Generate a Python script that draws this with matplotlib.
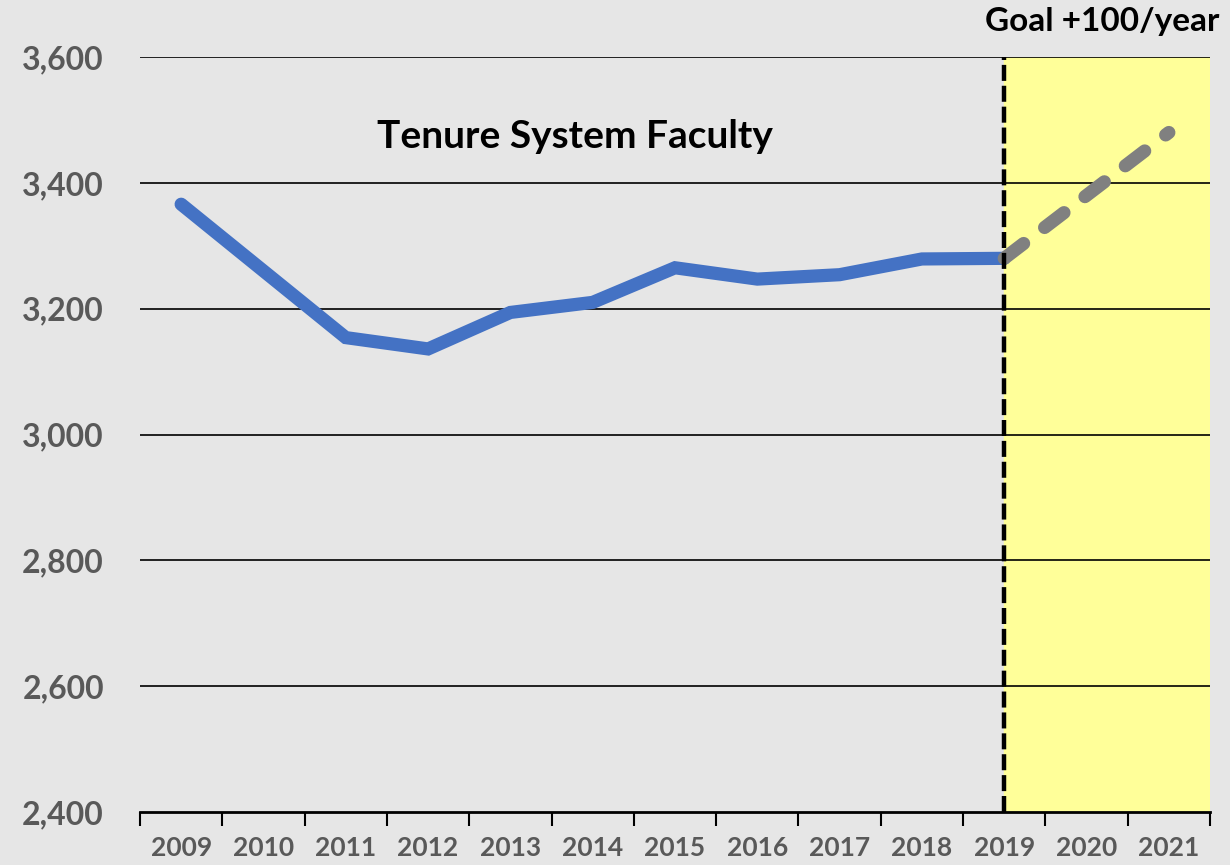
"""
Tenure system faculty headcount 2009-2019 with goal line to 2021
"""

import matplotlib
matplotlib.use('Agg')
import matplotlib.pyplot as plt
from matplotlib.ticker import FixedLocator, FuncFormatter
import numpy as np

# Data
years = ['2009', '2010', '2011', '2012', '2013', '2014', '2015',
         '2016', '2017', '2018', '2019', '2020', '2021']
faculty = [3366, 3260, 3154, 3136, 3194, 3210, 3265, 3247, 3254, 3279, 3280]
goal_years = ['2019', '2020', '2021']
goal = [3280, 3380, 3480]
y_ticks = [2400, 2600, 2800, 3000, 3200, 3400, 3600]

plt.rcParams['font.family'] = ['Lato', 'DejaVu Sans']
plt.rcParams['font.weight'] = 'bold'

fig = plt.figure(figsize=(12.3, 8.65), dpi=100, facecolor='#e6e6e6')
ax = fig.add_axes([140 / 1230, 1 - 812 / 865, 1070 / 1230, 755 / 865])
ax.set_facecolor('#e6e6e6')

x = np.arange(len(years))
x_fac = x[:len(faculty)]
x_goal = np.array([years.index(y) for y in goal_years])

# Goal region shading
ax.axvspan(x_goal[0], len(years) - 0.5, color='#ffff99', zorder=0)

# Gridlines
for yt in y_ticks[1:]:
    ax.axhline(yt, color='black', lw=1.2, zorder=1)

# Series
ax.plot(x_fac, faculty, color='#4472c4', lw=9.5, solid_capstyle='round',
        solid_joinstyle='miter', zorder=3)
ax.plot(x_goal, goal, color='#808080', lw=9.5, dash_capstyle='round',
        dashes=(1.85, 2.0), zorder=4)

# Vertical divider at 2019
ax.axvline(x_goal[0], color='black', lw=3.2, dashes=(3.6, 1.1), zorder=5)

ax.set_xlim(-0.5, len(years) - 0.5)
ax.set_ylim(y_ticks[0], y_ticks[-1])

# Axes styling
for side in ['left', 'right', 'top']:
    ax.spines[side].set_visible(False)
ax.spines['bottom'].set_linewidth(2)
ax.spines['bottom'].set_zorder(6)

ax.set_yticks(y_ticks)
ax.yaxis.set_major_formatter(FuncFormatter(lambda v, p: f'{int(v):,}'))
ax.tick_params(axis='y', length=0, pad=26, labelsize=23, labelcolor='#595959')

ax.set_xticks(x)
ax.set_xticklabels(years)
ax.xaxis.set_minor_locator(FixedLocator(np.arange(-0.5, len(years), 1)))
ax.tick_params(axis='x', which='major', length=0, pad=17, labelsize=19,
               labelcolor='#595959')
ax.tick_params(axis='x', which='minor', length=10, width=1.5, color='black')
for lab in ax.get_xticklabels() + ax.get_yticklabels():
    lab.set_fontweight('bold')

# Annotations
ax.text(574.5 / 1230, 1 - 136 / 865, 'Tenure System Faculty', transform=fig.transFigure,
        ha='center', va='center', fontsize=28, fontweight='bold', color='black')
ax.text(1219 / 1230, 1 - 22 / 865, 'Goal +100/year', transform=fig.transFigure,
        ha='right', va='center', fontsize=24, fontweight='bold', color='black')

plt.savefig('out.png', dpi=100, facecolor=fig.get_facecolor())
plt.close(fig)
